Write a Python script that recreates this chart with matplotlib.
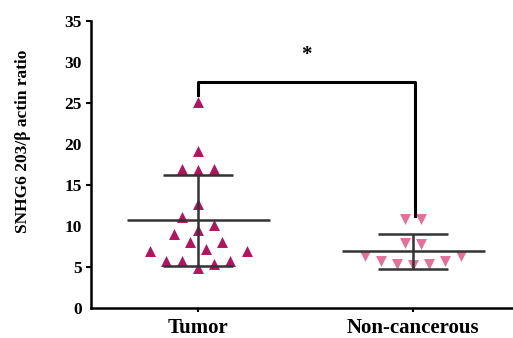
import matplotlib
matplotlib.use("Agg")
import matplotlib.pyplot as plt
import numpy as np

# values
categories = ["Tumor", "Non-cancerous"]
tumor = [25.1, 19.15, 16.9, 16.8, 16.9, 12.7, 11.1, 10.1, 9.5, 9.0,
         8.0, 8.0, 6.9, 7.15, 6.9, 5.7, 5.7, 4.9, 5.4, 5.7]
tumor_off = [0, 0, -1, 0, 1, 0, -1, 1, 0, -1.5,
             -0.5, 1.5, -3, 0.5, 3, -2, -1, 0, 1, 2]
noncanc = [10.8, 10.8, 7.96, 7.76, 6.27, 6.27, 5.74, 5.4, 5.2, 5.3, 5.74]
noncanc_off = [-0.5, 0.5, -0.5, 0.5, -3, 3, -2, -1, 0, 1, 2]
means = [10.7, 6.95]
sd_hi = [16.24, 9.05]
sd_lo = [5.05, 4.8]
bracket_y = 27.55
bracket_ends = [25.9, 11.2]

plt.rcParams['font.family'] = ['Liberation Serif', 'DejaVu Serif']
plt.rcParams['font.weight'] = 'bold'

fig = plt.figure(figsize=(5.13, 3.38), dpi=100)
ax = fig.add_axes([0.177, 0.089, 0.823, 0.850])

step = 0.075
colors = ['#B3145F', '#E5709B']
markers = ['^', 'v']
for i, (vals, offs) in enumerate([(tumor, tumor_off), (noncanc, noncanc_off)]):
    xs = i + np.array(offs) * step
    ax.scatter(xs, vals, marker=markers[i], s=62, color=colors[i],
               linewidths=0, zorder=2)
    # mean and SD
    ax.hlines(means[i], i - 0.333, i + 0.333, color='#333333', lw=1.8, zorder=3)
    ax.hlines([sd_hi[i], sd_lo[i]], i - 0.163, i + 0.163, color='#333333', lw=1.8, zorder=3)
    ax.vlines(i, sd_lo[i], sd_hi[i], color='#333333', lw=1.8, zorder=3)

# significance bracket
ax.plot([0, 0, 1.01, 1.01], [bracket_ends[0], bracket_y, bracket_y, bracket_ends[1]],
        color='black', lw=2.2, zorder=3)
ax.text(0.504, 30.8, '*', ha='center', va='center', fontsize=15, fontweight='bold')

ax.set_xlim(-0.5, 1.465)
ax.set_ylim(0, 35)
ax.set_xticks([0, 1])
ax.set_xticklabels(categories, fontsize=15, fontweight='bold')
ax.set_yticks([5, 15, 25, 35])
ax.set_yticks([0, 10, 20, 30], minor=True)
ax.set_yticklabels(['5', '15', '25', '35'], minor=False)
ax.set_yticklabels(['0', '10', '20', '30'], minor=True)
ax.tick_params(axis='y', which='major', length=3.6, width=1.5, labelsize=12.5, pad=3)
ax.tick_params(axis='y', which='minor', length=0, labelsize=12.5, pad=6.6)
ax.tick_params(axis='x', length=3, width=1.5, pad=4)
ax.set_ylabel('SNHG6 203/β actin ratio', fontsize=12.5, fontweight='bold')
ax.yaxis.set_label_coords(-0.142, 0.579)

for s in ['top', 'right']:
    ax.spines[s].set_visible(False)
for s in ['left', 'bottom']:
    ax.spines[s].set_linewidth(1.8)

fig.savefig('out.png', dpi=100)
